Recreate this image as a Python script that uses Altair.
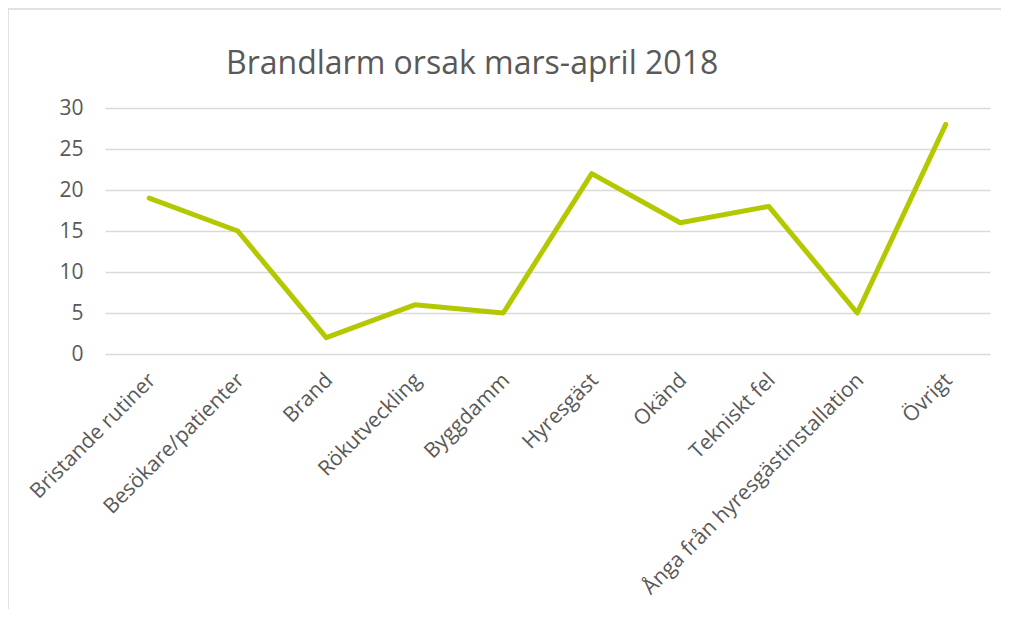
import altair as alt
import pandas as pd

title_text = ["Brandlarm orsak mars-april 2018"]
categories = ["Bristande rutiner", "Besökare/patienter", "Brand", "Rökutveckling",
              "Byggdamm", "Hyresgäst", "Okänd", "Tekniskt fel",
              "Ånga från hyresgästinstallation", "Övrigt"]
values = [19, 15, 2, 6, 5, 22, 16, 18, 5, 28]

df = pd.DataFrame({"Orsak": categories, "Antal": values})
tdf = pd.DataFrame({"t": title_text})

FONT = "Open Sans"
GRAY = "#595959"

line = alt.Chart(df).mark_line(
    color="#B4C800", strokeWidth=5, strokeCap="round", strokeJoin="round"
).encode(
    x=alt.X("Orsak:N", sort=categories,
            scale=alt.Scale(type="point", padding=0.5),
            axis=alt.Axis(title=None, labelAngle=-45, labelAlign="right",
                          labelBaseline="top", labelPadding=15, labelOffset=-5,
                          ticks=False, domain=False, grid=False, labelFontSize=21,
                          labelColor=GRAY, labelFont=FONT, labelLimit=500)),
    y=alt.Y("Antal:Q", scale=alt.Scale(domain=[0, 30]),
            axis=alt.Axis(title=None, values=[0, 5, 10, 15, 20, 25, 30],
                          ticks=False, domain=False, labelPadding=22,
                          labelFontSize=21, labelColor=GRAY, labelFont=FONT,
                          gridColor="#D9D9D9", gridWidth=1.3))
)

title = alt.Chart(tdf).mark_text(
    align="left", baseline="alphabetic", fontSize=32, font=FONT, color=GRAY
).encode(text="t:N", x=alt.value(121), y=alt.value(-34))

border_top = alt.Chart(tdf).mark_rule(color="#D9D9D9", strokeWidth=1.5).encode(
    x=alt.value(-97), x2=alt.value(900), y=alt.value(-99))
border_left = alt.Chart(tdf).mark_rule(color="#D9D9D9", strokeWidth=1.5).encode(
    x=alt.value(-97), y=alt.value(-99), y2=alt.value(510))

chart = alt.layer(border_top, border_left, title, line).properties(
    width=885, height=246,
    autosize=alt.AutoSizeParams(type="none"),
    padding={"left": 97, "top": 100, "right": 11, "bottom": 255},
).configure_view(stroke=None)

chart.save("out.html", embed_options={"renderer": "svg", "actions": False})
